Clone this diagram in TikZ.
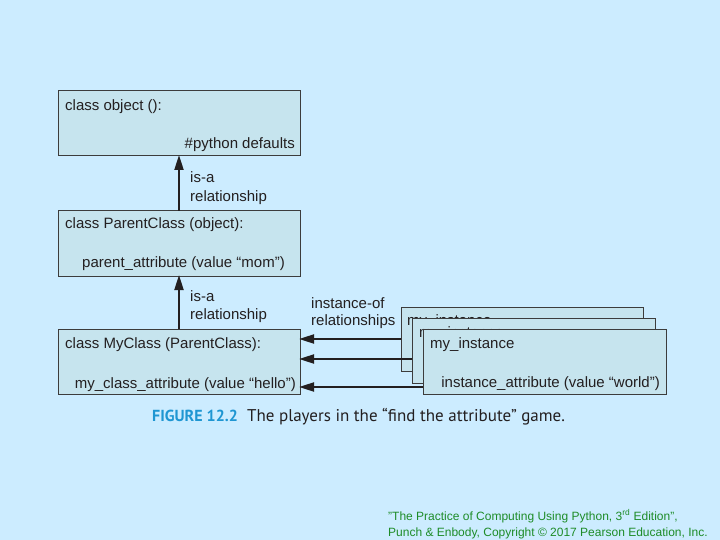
\documentclass[tikz,border=0pt]{standalone}
\usepackage{fontspec}
\setmainfont{Liberation Sans}
\newfontfamily\capfont{PT Sans}
\usetikzlibrary{arrows.meta}
\definecolor{bg}{RGB}{204,236,255}
\definecolor{boxfill}{RGB}{198,228,238}
\definecolor{boxline}{RGB}{60,60,60}
\definecolor{txt}{RGB}{35,31,32}
\definecolor{figblue}{RGB}{30,150,210}
\definecolor{copygreen}{RGB}{30,140,40}
\begin{document}
\begin{tikzpicture}[x=1bp,y=-1bp,
  cls/.style={draw=boxline, fill=boxfill, line width=1bp, minimum width=242bp, minimum height=65bp, anchor=north west, inner sep=0pt, outer sep=0pt},
  lbl/.style={font=\fontsize{15bp}{18bp}\selectfont, text=txt, inner sep=0pt},
  arr/.style={-{Triangle[length=15bp,width=9bp]}, line width=2bp, draw=txt, shorten >=-1bp}
]
\fill[bg] (0,0) rectangle (720,540);
\useasboundingbox (0,0) rectangle (720,540);

% class boxes
\node[cls] (obj) at (58,91) {};
\node[lbl, anchor=base west] (objA) at (65,111) {class object ():};
\node[lbl, anchor=base east] (objB) at (295,149) {\#python defaults};

\node[cls] (par) at (58,211) {};
\node[lbl, anchor=base west] (parA) at (65,229) {class ParentClass (object):};
\node[lbl, anchor=base east] (parB) at (285,268) {parent\_attribute (value “mom”)};

\node[cls] (my) at (58,329) {};
\node[lbl, anchor=base west] (myA) at (65,348) {class MyClass (ParentClass):};
\node[lbl, anchor=base east] (myB) at (296,388) {my\_class\_attribute (value “hello”)};

% is-a arrows
\draw[arr] (par.north -| 179,0) -- (obj.south -| 179,0);
\node[lbl, anchor=base west, align=left] (isa1) at (190,183) {is-a};
\node[lbl, anchor=base west] (rel1) at (190,202) {relationship};

\draw[arr] (my.north -| 179,0) -- (par.south -| 179,0);
\node[lbl, anchor=base west] (isa2) at (190,301) {is-a};
\node[lbl, anchor=base west] (rel2) at (190,319) {relationship};

\node[lbl, anchor=base west] (inst1) at (311,308) {instance-of};
\node[lbl, anchor=base west] (inst2) at (311,325) {relationships};

% instance boxes
\node[cls, minimum width=242bp, minimum height=64bp] (i1) at (401,307) {};
\node[lbl, anchor=base west] (i1A) at (407,325) {my\_instance};
\node[cls, minimum width=243bp, minimum height=65bp] (i2) at (412,318) {};
\node[lbl, anchor=base west] (i2A) at (419,337) {my\_instance};
\node[cls, minimum width=243bp, minimum height=65bp] (i3) at (423,329) {};
\node[lbl, anchor=base west] (i3A) at (430,348) {my\_instance};
\node[lbl, anchor=base east] (i3B) at (660,387) {instance\_attribute (value “world”)};

% instance-of arrows
\draw[arr] (i1.west |- 0,339) -- (my.east |- 0,339);
\draw[arr] (i2.west |- 0,359) -- (my.east |- 0,359);
\draw[arr] (i3.west |- 0,387) -- (my.east |- 0,387);

% caption
\node[anchor=base west, inner sep=0pt, font=\capfont\bfseries\fontsize{16bp}{19bp}\selectfont, text=figblue] (figno) at (152,421) {FIGURE 12.2};
\node[anchor=base west, inner sep=0pt, font=\capfont\fontsize{17bp}{20bp}\selectfont, text=txt] (figcap) at (247,421) {The players in the “find the attribute” game.};

% copyright
\node[anchor=base west, inner sep=0pt, font=\fontsize{12bp}{14bp}\selectfont, text=copygreen] (cp1) at (388,520) {"The Practice of Computing Using Python, 3\textsuperscript{rd} Edition",};
\node[anchor=base west, inner sep=0pt, font=\fontsize{12bp}{14bp}\selectfont, text=copygreen] (cp2) at (388,536) {Punch \& Enbody, Copyright © 2017 Pearson Education, Inc.};
\end{tikzpicture}
\end{document}
